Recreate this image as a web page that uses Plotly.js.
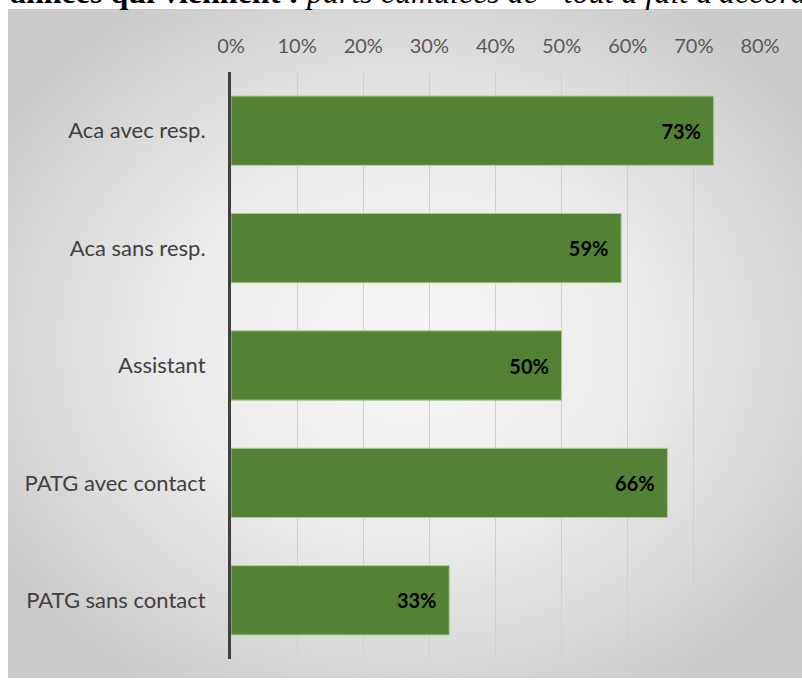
<!DOCTYPE html>
<html><head><meta charset="utf-8">
<script src="https://cdn.plot.ly/plotly-3.0.1.min.js"></script>
<style>
html,body{margin:0;padding:0;background:#fff;}
#wrap{position:relative;width:802px;height:682px;overflow:hidden;}
#bg{position:absolute;left:8px;top:9px;width:800px;height:669px;
background:radial-gradient(ellipse 60% 60% at 50% 50%, #f6f6f6 0%, #ebebeb 50%, #cbcbcb 100%);}
#chart{position:absolute;left:0;top:0;width:802px;height:682px;}
</style></head>
<body><div id="wrap"><div id="bg"></div><div id="chart"></div></div>
<script>
const categories = ["Aca avec resp.", "Aca sans resp.", "Assistant", "PATG avec contact", "PATG sans contact"];
const values = [0.73, 0.59, 0.50, 0.66, 0.33];
const tickVals = [0, 0.1, 0.2, 0.3, 0.4, 0.5, 0.6, 0.7, 0.8];
const tickLabels = ["0%", "10%", "20%", "30%", "40%", "50%", "60%", "70%", "80%"];
const titleBold = "années qui viennent :";
const titleItalic = "parts cumulées de \u201ctout à fait d'accord\u201d";

const font = "Lato, 'Open Sans', sans-serif";
const trace = {
  type: "bar", orientation: "h",
  y: categories, x: values,
  marker: {color: "#548235", line: {color: "#a9c98f", width: 1}},
  width: 0.59,
  text: values.map(v => Math.round(v*100) + "%\u00a0\u00a0"),
  textposition: "inside", insidetextanchor: "end",
  textfont: {family: font, size: 20, color: "#000", weight: "bold"},
  hoverinfo: "none", cliponaxis: false
};
const layout = {
  width: 802, height: 682,
  paper_bgcolor: "rgba(0,0,0,0)", plot_bgcolor: "rgba(0,0,0,0)",
  margin: {l: 231, r: 42, t: 72, b: 23},
  showlegend: false,
  xaxis: {side: "top", range: [0, 0.8], tickvals: tickVals, ticktext: tickLabels,
    showgrid: true, gridcolor: "#cfcfcf", gridwidth: 1, zeroline: false,
    ticks: "", ticklabelstandoff: 14, tickfont: {family: font, size: 20, color: "#595959"},
    fixedrange: true},
  yaxis: {autorange: "reversed", showline: true, linecolor: "#404040", linewidth: 3,
    ticks: "", ticklabelstandoff: 18, tickfont: {family: font, size: 22, color: "#404040"},
    fixedrange: true},
  annotations: [{
    xref: "paper", yref: "paper", x: -226/537, y: 1 + (72 + 8)/587, xanchor: "left", yanchor: "middle",
    text: "<b>" + titleBold + "</b> <i>" + titleItalic + "</i>",
    showarrow: false, align: "left",
    font: {family: "'Liberation Serif', 'Times New Roman', serif", size: 32, color: "#000"}
  }]
};
Plotly.newPlot("chart", [trace], layout, {displayModeBar: false, staticPlot: true});
</script></body></html>
